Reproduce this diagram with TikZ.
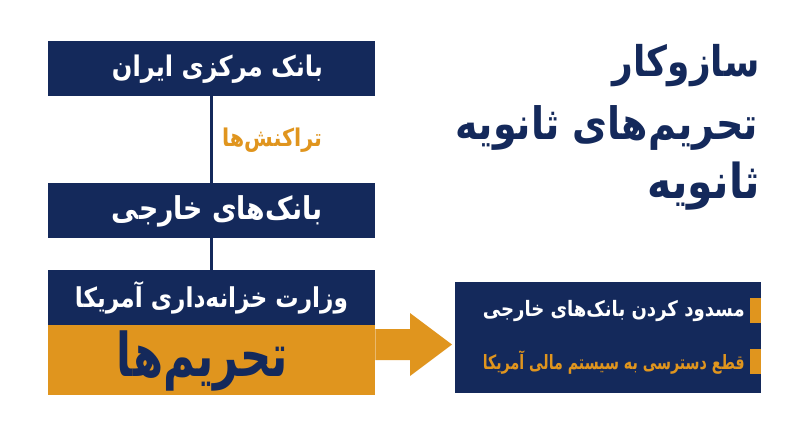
\documentclass[tikz,border=0pt]{standalone}
\usepackage{fontspec}
\TeXXeTstate=1
\newfontfamily\fa[Script=Arabic, FakeStretch=0.85]{DejaVu Sans}
\newfontfamily\fanarrow[Script=Arabic, FakeStretch=0.72]{DejaVu Sans}
\definecolor{navy}{HTML}{14295B}
\definecolor{gold}{HTML}{E0951E}
\newcommand{\zw}{^^^^200c}
\newcommand{\fitw}[2]{\resizebox{#1pt}{!}{#2}}
\tikzset{
  navybox/.style={fill=navy, inner sep=0pt, anchor=north west},
  goldbox/.style={fill=gold, inner sep=0pt, anchor=north west},
  link/.style={draw=navy, line width=3pt},
  fatxt/.style={inner sep=0pt, font=\fa\bfseries},
  narrowtxt/.style={inner sep=0pt, font=\fanarrow\bfseries},
}
\begin{document}
\begin{tikzpicture}[x=1pt,y=-1pt]
\useasboundingbox (0,0) rectangle (800,447);
\fill[white] (0,0) rectangle (800,447);
% left column
\node (b1) [navybox, minimum width=327pt, minimum height=55pt] at (48,41) {};
\node (b2) [navybox, minimum width=327pt, minimum height=55pt] at (48,183) {};
\node (b3) [navybox, minimum width=327pt, minimum height=55pt] at (48,270) {};
\node (b4) [goldbox, minimum width=327pt, minimum height=70pt] at (48,325) {};
\draw[link] (b1.south) -- (b2.north);
\draw[link] (b2.south) -- (b3.north);
\node (b1t) [fatxt, text=white] at (217.5,69) {\fitw{211}{\beginR بانک مرکزی ایران\endR}};
\node (b2t) [fatxt, text=white] at (217.5,211) {\fitw{211}{\beginR بانک\zw های خارجی\endR}};
\node (b3t) [fatxt, text=white] at (211.5,298) {\fitw{273}{\beginR وزارت خزانه\zw داری آمریکا\endR}};
\node (b4t) [narrowtxt, text=navy] at (202.5,361) {\fitw{171}{\beginR تحریم\zw ها\endR}};
\node (tx) [fatxt, text=gold] at (272,140) {\fitw{100}{\beginR تراکنش\zw ها\endR}};
% arrow
\coordinate (a0) at (b4.north east |- 0,329);
\coordinate (a1) at (b4.north east |- 0,360);
\fill[gold] (a0) -- (410,329) -- (410,313) -- (452,344.5) -- (410,376) -- (410,360) -- (a1) -- cycle;
% right box
\node (rb) [navybox, minimum width=306pt, minimum height=111pt] at (455,282) {};
\fill[gold] (750,298) rectangle (761,323);
\fill[gold] (750,349) rectangle (761,374);
\node (r1) [fatxt, anchor=east, text=white] at (745,311) {\fitw{262}{\beginR مسدود کردن بانک\zw های خارجی\endR}};
\node (r2) [narrowtxt, anchor=east, text=gold] at (745,362) {\fitw{262}{\beginR قطع دسترسی به سیستم مالی آمریکا\endR}};
% title
\node (t1) [fatxt, anchor=east, text=navy] at (760,66) {\fitw{147}{\beginR سازوکار\endR}};
\node (t2) [fatxt, anchor=east, text=navy] at (758,128) {\fitw{302}{\beginR تحریم\zw های ثانویه\endR}};
\node (t3) [fatxt, anchor=east, text=navy] at (760,186) {\fitw{112}{\beginR ثانویه\endR}};
\end{tikzpicture}
\end{document}
